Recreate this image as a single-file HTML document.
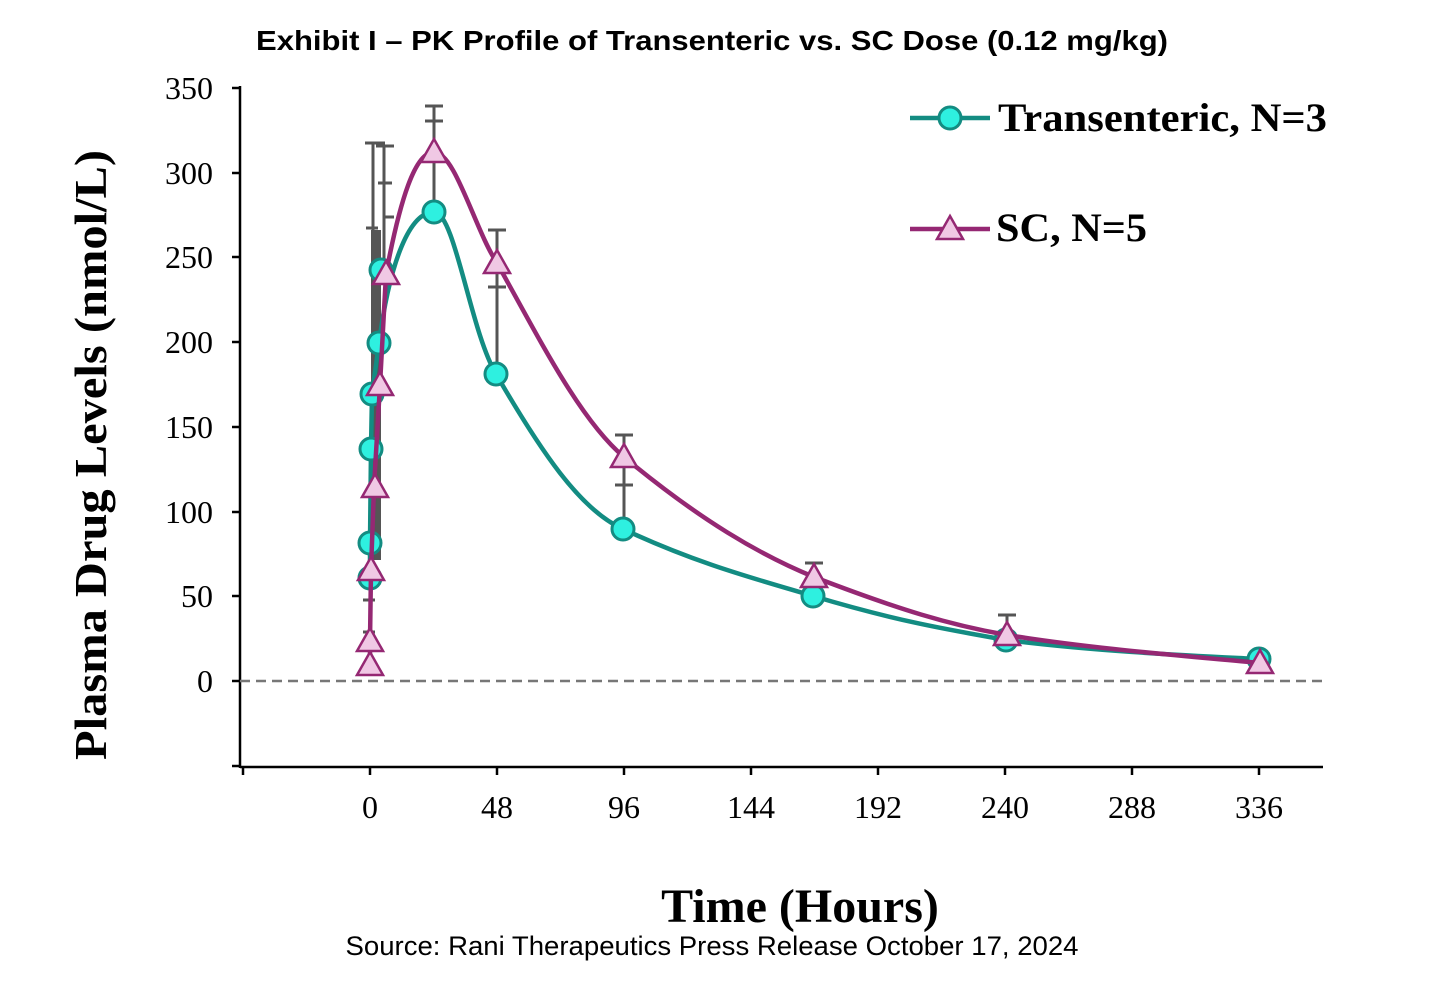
<!DOCTYPE html>
<html><head><style>body{margin:0;background:#fff}svg{display:block}</style></head><body>
<svg width="1446" height="992" xmlns="http://www.w3.org/2000/svg">
<text x="712" y="50" text-anchor="middle" font-family="Liberation Sans, sans-serif" font-weight="bold" font-size="28" textLength="912" lengthAdjust="spacingAndGlyphs">Exhibit I – PK Profile of Transenteric vs. SC Dose (0.12 mg/kg)</text>
<g stroke="#000" stroke-width="2.5">
<line x1="240" y1="86" x2="240" y2="768"/>
<line x1="240" y1="767" x2="1323" y2="767"/>
<line x1="232" y1="88" x2="240" y2="88"/><line x1="232" y1="173" x2="240" y2="173"/><line x1="232" y1="257" x2="240" y2="257"/><line x1="232" y1="342" x2="240" y2="342"/><line x1="232" y1="427" x2="240" y2="427"/><line x1="232" y1="512" x2="240" y2="512"/><line x1="232" y1="596" x2="240" y2="596"/><line x1="232" y1="681" x2="240" y2="681"/><line x1="232" y1="766" x2="240" y2="766"/>
<line x1="243" y1="767" x2="243" y2="775"/><line x1="370" y1="767" x2="370" y2="775"/><line x1="497" y1="767" x2="497" y2="775"/><line x1="624" y1="767" x2="624" y2="775"/><line x1="751" y1="767" x2="751" y2="775"/><line x1="878" y1="767" x2="878" y2="775"/><line x1="1005" y1="767" x2="1005" y2="775"/><line x1="1132" y1="767" x2="1132" y2="775"/><line x1="1259" y1="767" x2="1259" y2="775"/>
</g>
<g font-family="Liberation Serif, serif" font-size="32" text-anchor="end">
<text x="213" y="99">350</text><text x="213" y="184">300</text><text x="213" y="268">250</text><text x="213" y="353">200</text><text x="213" y="438">150</text><text x="213" y="523">100</text><text x="213" y="607">50</text><text x="213" y="692">0</text>
</g>
<g font-family="Liberation Serif, serif" font-size="32" text-anchor="middle">
<text x="370" y="818">0</text><text x="497" y="818">48</text><text x="624" y="818">96</text><text x="751" y="818">144</text><text x="878" y="818">192</text><text x="1005" y="818">240</text><text x="1132" y="818">288</text><text x="1259" y="818">336</text>
</g>
<text x="800" y="922" text-anchor="middle" font-family="Liberation Serif, serif" font-weight="bold" font-size="48">Time (Hours)</text>
<text transform="translate(106,455) rotate(-90)" text-anchor="middle" font-family="Liberation Serif, serif" font-weight="bold" font-size="46" textLength="610" lengthAdjust="spacingAndGlyphs">Plasma Drug Levels (nmol/L)</text>
<text x="712" y="955" text-anchor="middle" font-family="Liberation Sans, sans-serif" font-size="27" textLength="733" lengthAdjust="spacingAndGlyphs">Source: Rani Therapeutics Press Release October 17, 2024</text>
<line x1="240" y1="681" x2="1323" y2="681" stroke="#777" stroke-width="2.5" stroke-dasharray="10,6"/>
<g stroke="#555" stroke-width="3">
<rect x="371" y="230" width="10" height="330" fill="#555" stroke="none"/>
<line x1="373" y1="143" x2="373" y2="560"/><line x1="365" y1="143" x2="385" y2="143"/>
<line x1="384" y1="146" x2="384" y2="280"/><line x1="376" y1="146" x2="394" y2="146"/>
<line x1="378" y1="183" x2="392" y2="183"/><line x1="383" y1="217" x2="394" y2="217"/><line x1="366" y1="228" x2="378" y2="228"/>
<line x1="363" y1="400" x2="375" y2="400"/><line x1="366" y1="442" x2="378" y2="442"/><line x1="364" y1="457" x2="376" y2="457"/>
<line x1="363" y1="600" x2="375" y2="600"/><line x1="363" y1="632" x2="375" y2="632"/>
<line x1="434" y1="106" x2="434" y2="212"/><line x1="425" y1="106" x2="443" y2="106"/><line x1="425" y1="121" x2="443" y2="121"/>
<line x1="497" y1="230" x2="497" y2="374"/><line x1="488" y1="230" x2="506" y2="230"/><line x1="488" y1="287" x2="506" y2="287"/>
<line x1="624" y1="435" x2="624" y2="529"/><line x1="615" y1="435" x2="633" y2="435"/><line x1="615" y1="485" x2="633" y2="485"/>
<line x1="814" y1="563" x2="814" y2="577"/><line x1="805" y1="563" x2="823" y2="563"/>
<line x1="1007" y1="615" x2="1007" y2="635"/><line x1="998" y1="615" x2="1016" y2="615"/>
</g>
<path d="M370,578 L370,543 L371,449 L372,394 L379,343 C390,260 410,212 434,212 C455,212 470,330 496,374 C540,450 580,510 623,529 C700,565 760,580 813,596 C900,622 950,630 1006,640 C1100,652 1200,656 1259,659" fill="none" stroke="#138c82" stroke-width="4.5"/>
<g fill="#2ef0e0" stroke="#138c82" stroke-width="3">
<circle cx="370" cy="578" r="11"/><circle cx="370" cy="543" r="11"/><circle cx="371" cy="449" r="11"/><circle cx="372" cy="394" r="11"/><circle cx="379" cy="343" r="11"/><circle cx="381" cy="270" r="11"/><circle cx="434" cy="212" r="11"/><circle cx="496" cy="374" r="11"/><circle cx="623" cy="529" r="11"/><circle cx="813" cy="596" r="11"/><circle cx="1006" cy="640" r="11"/><circle cx="1259" cy="659" r="11"/>
<line x1="910" y1="118" x2="990" y2="118" stroke-width="4.5"/><circle cx="950" cy="118" r="11"/>
</g>
<path d="M370,665 L370,641 L371,570 L374,487 L380,385 L386,274 C400,200 415,152 434,152 C455,152 475,230 497,263 C540,340 580,420 624,457 C700,520 760,555 814,577 C900,610 950,625 1007,635 C1100,650 1200,657 1260,663" fill="none" stroke="#952873" stroke-width="4.5"/>
<g fill="#f0c8e4" stroke="#952873" stroke-width="2.5">
<path d="M0,-13 L13,10 L-13,10 Z" transform="translate(370,665)"/>
<path d="M0,-13 L13,10 L-13,10 Z" transform="translate(370,641)"/>
<path d="M0,-13 L13,10 L-13,10 Z" transform="translate(371,570)"/>
<path d="M0,-13 L13,10 L-13,10 Z" transform="translate(375,487)"/>
<path d="M0,-13 L13,10 L-13,10 Z" transform="translate(380,385)"/>
<path d="M0,-13 L13,10 L-13,10 Z" transform="translate(386,274)"/>
<path d="M0,-13 L13,10 L-13,10 Z" transform="translate(434,152)"/>
<path d="M0,-13 L13,10 L-13,10 Z" transform="translate(497,263)"/>
<path d="M0,-13 L13,10 L-13,10 Z" transform="translate(624,457)"/>
<path d="M0,-13 L13,10 L-13,10 Z" transform="translate(814,577)"/>
<path d="M0,-13 L13,10 L-13,10 Z" transform="translate(1007,635)"/>
<path d="M0,-13 L13,10 L-13,10 Z" transform="translate(1260,663)"/>
<line x1="910" y1="229" x2="990" y2="229" stroke-width="4.5"/>
<path d="M0,-13 L13,10 L-13,10 Z" transform="translate(950,229)"/>
</g>
<text x="998" y="131" font-family="Liberation Serif, serif" font-weight="bold" font-size="40" textLength="329" lengthAdjust="spacingAndGlyphs">Transenteric, N=3</text>
<text x="996" y="241" font-family="Liberation Serif, serif" font-weight="bold" font-size="40" textLength="151" lengthAdjust="spacingAndGlyphs">SC, N=5</text>
</svg>
</body></html>
